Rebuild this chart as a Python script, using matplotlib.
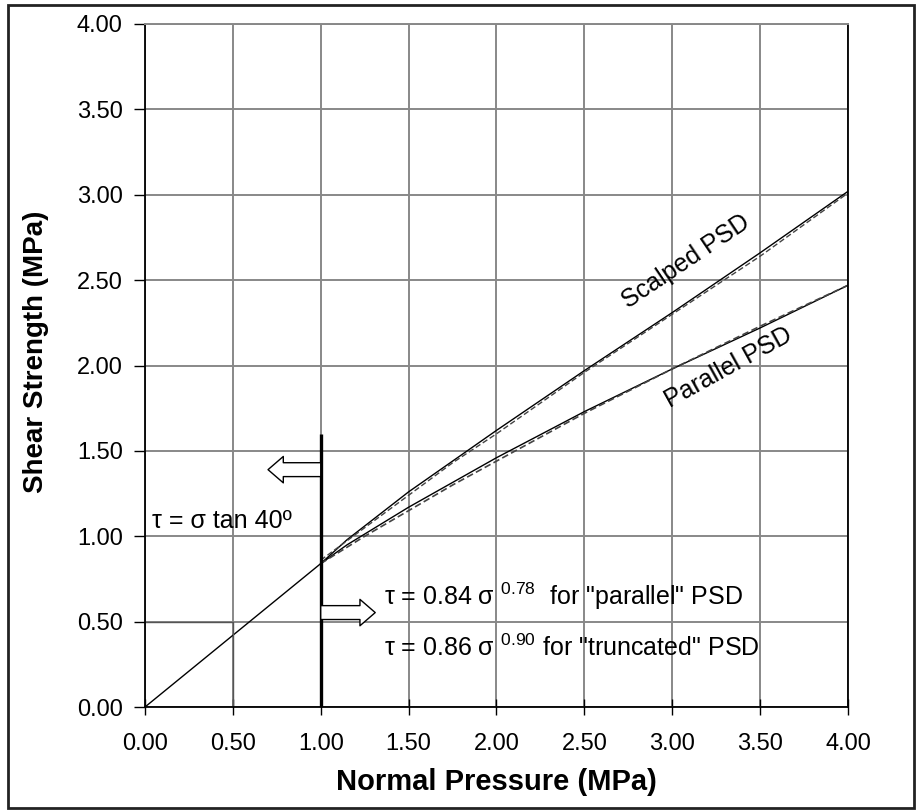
import matplotlib
matplotlib.use('Agg')
import matplotlib.pyplot as plt
from matplotlib.patches import Rectangle

plt.rcParams['font.family'] = ['Liberation Sans', 'DejaVu Sans']

# linear part  tau = sigma tan 40
lin_x = [0.0, 1.0]
lin_y = [0.0, 0.84]

# measured envelopes (solid)
scalped_x = [1.0, 1.15, 1.5, 2.0, 2.5, 3.0, 3.5, 4.0]
scalped_y = [0.84, 0.98, 1.26, 1.62, 1.97, 2.31, 2.66, 3.02]
parallel_x = [1.0, 1.15, 1.5, 2.0, 2.5, 3.0, 3.5, 4.0]
parallel_y = [0.84, 0.95, 1.17, 1.46, 1.73, 1.98, 2.22, 2.47]

# fitted curves (dashed)
fit_x = [1.0, 1.25, 1.5, 1.75, 2.0, 2.5, 3.0, 3.5, 4.0]
fit_scalped_y = [0.86, 1.05, 1.24, 1.43, 1.60, 1.96, 2.30, 2.64, 3.01]
fit_parallel_y = [0.84, 1.00, 1.15, 1.30, 1.44, 1.72, 1.98, 2.23, 2.47]

ticks = [0, 0.5, 1.0, 1.5, 2.0, 2.5, 3.0, 3.5, 4.0]

fig = plt.figure(figsize=(9.2, 8.11), dpi=100)
ax = fig.add_axes([145/920, 1-707/811, 703/920, 683/811])

ax.plot(lin_x, lin_y, color='black', lw=1.0)
ax.plot(scalped_x, scalped_y, color='black', lw=1.0)
ax.plot(parallel_x, parallel_y, color='black', lw=1.0)
ax.plot(fit_x, fit_scalped_y, color='#444444', lw=1.0, ls=(0, (4, 2)))
ax.plot(fit_x, fit_parallel_y, color='#444444', lw=1.2, ls=(0, (4, 2)))

# darker corner near (0.5, 0.5)
ax.plot([0, 0.5, 0.5], [0.5, 0.5, 0], color='#555555', lw=1.0)

# thick vertical divider at sigma = 1
ax.plot([1.0, 1.0], [0.0, 1.6], color='black', lw=2.4, solid_capstyle='butt')

arrow = dict(arrowstyle='simple,head_length=0.55,head_width=0.95,tail_width=0.5',
             mutation_scale=20, fc='white', ec='black', lw=1.0, shrinkA=0, shrinkB=0)
ax.annotate('', xy=(0.70, 1.39), xytext=(1.0, 1.39), arrowprops=arrow)
ax.annotate('', xy=(1.31, 0.553), xytext=(1.0, 0.553), arrowprops=arrow)

ax.text(0.04, 1.09, 'τ = σ tan 40º', fontsize=18, va='center')
ax.text(1.36, 0.65, 'τ = 0.84 σ $^{\\mathregular{0.78}}$  for "parallel" PSD', fontsize=18, va='center')
ax.text(1.36, 0.345, 'τ = 0.86 σ $^{\\mathregular{0.90}}$ for "truncated" PSD', fontsize=18, va='center')

ax.text(3.08, 2.61, 'Scalped PSD', fontsize=18, rotation=34, ha='center', va='center')
ax.text(3.32, 1.99, 'Parallel PSD', fontsize=18, rotation=29, ha='center', va='center')

ax.set_xlim(0, 4)
ax.set_ylim(0, 4)
ax.set_xticks(ticks)
ax.set_yticks(ticks)
ax.set_xticklabels(['%.2f' % t for t in ticks], fontsize=17)
ax.set_yticklabels(['%.2f' % t for t in ticks], fontsize=17)
ax.tick_params(axis='x', direction='inout', length=12, width=1, pad=13)
ax.tick_params(axis='y', direction='out', length=8, width=1, pad=8)
ax.grid(True, color='#888888', lw=1.4)
ax.set_axisbelow(True)
for s in ['left', 'bottom', 'right']:
    ax.spines[s].set_color('black')
    ax.spines[s].set_linewidth(1.3)
ax.spines['top'].set_color('#888888')
ax.spines['top'].set_linewidth(1.4)

fig.text((145+848)/2/920, 1-782/811, 'Normal Pressure (MPa)', fontsize=21, fontweight='bold',
         ha='center', va='center')
fig.text(36/920, 1-352/811, 'Shear Strength (MPa)', fontsize=20, fontweight='bold',
         ha='center', va='center', rotation=90)

fig.patches.append(Rectangle((8/920, 3/811), 906/920, 803/811, transform=fig.transFigure,
                             fill=False, ec='#222222', lw=2))

fig.savefig('out.png', dpi=100)
